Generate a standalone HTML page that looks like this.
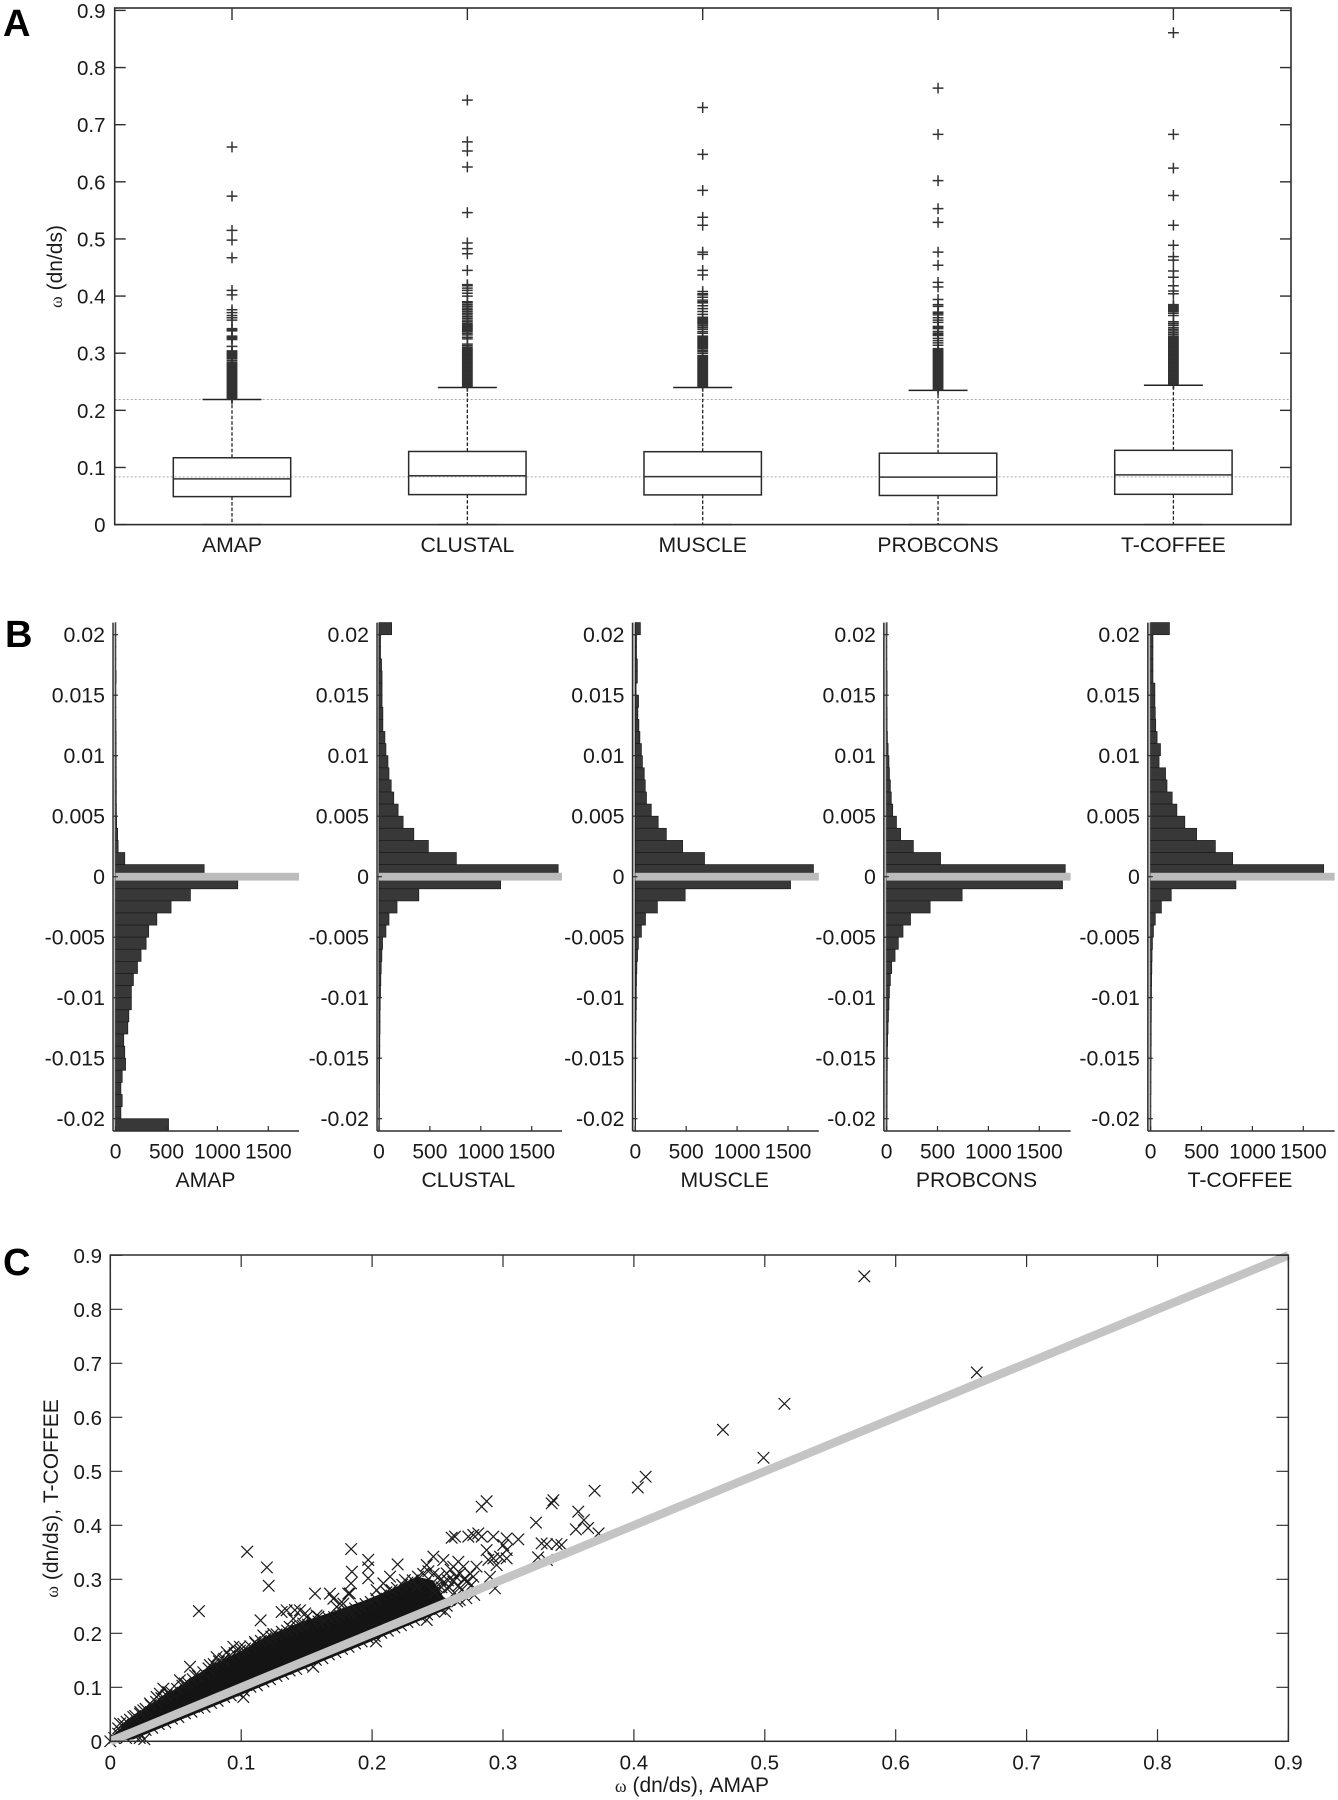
<!DOCTYPE html>
<html lang="en">
<head>
<meta charset="utf-8">
<title>Omega distributions across alignment methods</title>
<style>
html,body{margin:0;padding:0;background:#fff;}
svg{display:block;font-family:"Liberation Sans",sans-serif;fill:#1a1a1a;}
</style>
</head>
<body>
<svg id="figure" xmlns="http://www.w3.org/2000/svg" width="1338" height="1800" viewBox="0 0 1338 1800">
  <rect x="0" y="0" width="1338" height="1800" fill="#fff"/>
  <g id="panelA"></g>
  <g id="panelB"></g>
  <g id="panelC"></g>
  <text x="3" y="36" font-size="38" font-weight="bold" fill="#000">A</text>
  <text x="5" y="647" font-size="38" font-weight="bold" fill="#000">B</text>
  <text x="3" y="1275" font-size="38" font-weight="bold" fill="#000">C</text>
</svg>
<script>
/* ---------- shared category data ---------- */
var methods = ['AMAP','CLUSTAL','MUSCLE','PROBCONS','T-COFFEE'];

/* ---------- panel A data ---------- */
var omegaTicks = [0,0.1,0.2,0.3,0.4,0.5,0.6,0.7,0.8,0.9];
var omegaTickLabels = ['0','0.1','0.2','0.3','0.4','0.5','0.6','0.7','0.8','0.9'];
var boxQ1 = [0.049,0.0525,0.052,0.051,0.053];
var boxMedian = [0.080,0.0855,0.084,0.083,0.087];
var boxQ3 = [0.117,0.128,0.1276,0.125,0.130];
var whiskerHigh = [0.219,0.240,0.240,0.235,0.244];
var whiskerLow = [0,0,0,0,0];
var referenceLines = [0.219,0.0835];
var fliersAmap = [0.661,0.575,0.515,0.498,0.467,0.41,0.402,0.376,0.371,0.366,0.362,0.358,0.343,0.341,0.339,0.330,0.328,0.326,0.324,0.312,0.304,0.302,0.300,0.298,0.296,0.294,0.292,0.290,0.287,0.284,0.282,0.280,0.278,0.276,0.274,0.272,0.270,0.268,0.266,0.264,0.262,0.260,0.258,0.256,0.254,0.252,0.250,0.248,0.246,0.244,0.242,0.240,0.238,0.236,0.234,0.232,0.230,0.228,0.226,0.224,0.222,0.220];
var fliersClustal = [0.743,0.670,0.654,0.626,0.546,0.493,0.483,0.474,0.445,0.420,0.418,0.414,0.410,0.405,0.400,0.390,0.388,0.385,0.382,0.379,0.376,0.373,0.370,0.367,0.364,0.361,0.358,0.355,0.352,0.350,0.348,0.346,0.344,0.342,0.340,0.338,0.335,0.332,0.328,0.325,0.316,0.313,0.310,0.308,0.306,0.304,0.302,0.300,0.298,0.296,0.294,0.292,0.290,0.288,0.286,0.284,0.282,0.280,0.278,0.276,0.274,0.272,0.270,0.268,0.266,0.264,0.262,0.260,0.258,0.256,0.254,0.252,0.250,0.248,0.246,0.244,0.242];
var fliersMuscle = [0.730,0.648,0.585,0.538,0.524,0.477,0.473,0.445,0.437,0.408,0.404,0.402,0.398,0.393,0.390,0.388,0.383,0.378,0.373,0.368,0.363,0.361,0.359,0.357,0.355,0.353,0.351,0.348,0.345,0.342,0.338,0.335,0.330,0.328,0.326,0.324,0.322,0.320,0.318,0.316,0.314,0.312,0.310,0.308,0.305,0.303,0.300,0.296,0.294,0.292,0.290,0.288,0.286,0.284,0.282,0.280,0.278,0.276,0.274,0.272,0.270,0.268,0.266,0.264,0.262,0.260,0.258,0.256,0.254,0.252,0.250,0.248,0.246,0.244,0.242];
var fliersProbcons = [0.764,0.683,0.602,0.553,0.529,0.477,0.454,0.424,0.416,0.394,0.385,0.382,0.372,0.370,0.367,0.362,0.358,0.354,0.347,0.345,0.343,0.338,0.335,0.333,0.331,0.326,0.322,0.318,0.314,0.308,0.306,0.304,0.302,0.300,0.298,0.296,0.294,0.292,0.290,0.288,0.286,0.284,0.282,0.280,0.278,0.276,0.274,0.272,0.270,0.268,0.266,0.264,0.262,0.260,0.258,0.256,0.254,0.252,0.250,0.248,0.246,0.244,0.242,0.240,0.238,0.236];
var fliersTcoffee = [0.861,0.683,0.624,0.576,0.524,0.489,0.469,0.463,0.444,0.433,0.418,0.409,0.404,0.385,0.383,0.381,0.379,0.377,0.375,0.373,0.370,0.366,0.355,0.352,0.349,0.345,0.342,0.339,0.336,0.333,0.330,0.328,0.326,0.324,0.322,0.320,0.318,0.316,0.314,0.312,0.310,0.308,0.306,0.304,0.302,0.300,0.298,0.296,0.294,0.292,0.290,0.288,0.286,0.284,0.282,0.280,0.278,0.276,0.274,0.272,0.270,0.268,0.266,0.264,0.262,0.260,0.258,0.256,0.254,0.252,0.250,0.248,0.246];
var fliersByMethod = [fliersAmap,fliersClustal,fliersMuscle,fliersProbcons,fliersTcoffee];

/* ---------- panel B data ---------- */
var diffTicks = [0.02,0.015,0.01,0.005,0,-0.005,-0.01,-0.015,-0.02];
var diffTickLabels = ['0.02','0.015','0.01','0.005','0','-0.005','-0.01','-0.015','-0.02'];
var countTicks = [0,500,1000,1500];
var countTickLabels = ['0','500','1000','1500'];
var binStarts = [0.020,0.019,0.018,0.017,0.016,0.015,0.014,0.013,0.012,0.011,0.010,0.009,0.008,0.007,0.006,0.005,0.004,0.003,0.002,0.001,0,-0.001,-0.002,-0.003,-0.004,-0.005,-0.006,-0.007,-0.008,-0.009,-0.010,-0.011,-0.012,-0.013,-0.014,-0.015,-0.016,-0.017,-0.018,-0.019,-0.020,-0.021];
var histAmap = [3,3,3,3,5,3,3,3,4,5,5,6,6,7,7,8,10,20,25,90,870,1200,735,545,405,325,300,250,215,175,155,155,130,120,80,90,98,65,52,65,52,520];
var histClustal = [124,15,15,25,30,30,30,38,38,58,68,88,98,120,145,188,237,342,485,760,1760,1195,391,177,98,68,35,28,22,18,15,12,10,10,8,8,6,6,5,5,4,4];
var histMuscle = [50,12,12,20,20,8,32,25,35,45,60,70,88,98,110,157,225,305,465,680,1750,1525,490,217,100,60,30,22,15,12,10,10,8,6,5,5,4,4,3,3,3,3];
var histProbcons = [5,3,3,3,5,5,4,5,5,8,15,23,28,37,46,60,97,138,263,530,1755,1728,742,428,235,161,115,83,50,37,28,23,18,14,10,8,7,6,6,5,5,4];
var histTcoffee = [185,23,23,23,23,42,42,46,50,64,97,83,147,161,212,258,336,452,636,806,1700,838,203,106,46,28,18,14,12,10,9,8,7,6,6,5,5,4,4,3,3,3];
var histByMethod = [histAmap,histClustal,histMuscle,histProbcons,histTcoffee];

/* ---------- panel C data ---------- */
var cloudX = [0,0.0176,0.038,0.056,0.076,0.099,0.119,0.145,0.170,0.1933,0.2137,0.234,0.2468,0.2544,0.2595];
var cloudUpper = [0.008,0.044,0.08,0.106,0.14,0.166,0.194,0.22,0.24,0.26,0.28,0.305,0.298,0.2678,0.2595];
var cloudLower = [0,0.0036,0.024,0.042,0.062,0.085,0.105,0.131,0.156,0.179,0.2,0.221,0.234,0.242,0.248];
/* isolated and clustered points read individually */
var sparseAmap = [0,0.003,0.006,0.0677,0.1045,0.1196,0.121,0.1148,0.184,0.197,0.1846,0.197,0.1839,0.197,0.2195,0.2837,0.2875,0.3372,0.3385,0.370,0.3575,0.3618,0.3252,0.3557,0.3295,0.3409,0.3447,0.3268,0.373,0.576,0.662,0.515,0.468,0.499,0.409,0.403,0.2608,0.2633,0.2735,0.2773,0.2811,0.2837,0.2926,0.3028,0.3117,0.2875,0.2926,0.2977,0.3028,0.2951,0.3002,0.3028,0.2888,0.2901,0.2939,0.3335,0.3335,0.365];
var sparseTcoffee = [0,0.006,0.014,0.241,0.351,0.322,0.288,0.224,0.356,0.336,0.314,0.322,0.2925,0.302,0.3277,0.4345,0.4445,0.4407,0.4465,0.464,0.4253,0.4097,0.405,0.3925,0.3666,0.3653,0.3635,0.3406,0.385,0.861,0.683,0.625,0.577,0.525,0.49,0.47,0.377,0.379,0.379,0.382,0.385,0.379,0.379,0.3758,0.374,0.3541,0.3387,0.342,0.3387,0.3264,0.3635,0.3541,0.336,0.3048,0.2833,0.3357,0.365,0.395];
/* points along the upper fringe of the dense cloud */
var upperAmap = [0.1564,0.1678,0.1704,0.1818,0.1755,0.1818,0.1347,0.1449,0.1398,0.1309,0.15,0.1576,0.137,0.1474,0.1245,0.1169,0.1105,0.122,0.099,0.094,0.0889,0.0812,0.0761,0.0863,0.0609,0.0647,0.0532,0.057,0.0405,0.0443,0.0354,0.0303,0.0227,0.0176,0.0074,0.0125,0.0252,0.0379,0.141,0.1489,0.159,0.178,0.183,0.173,0.2137,0.2086,0.2035,0.2251,0.229,0.2417,0.2468,0.2544,0.2659,0.262,0.2697,0.257,0.2672,0.252,0.262,0.2722,0.2798,0.2773,0.257,0.2684,0.2493,0.276,0.2404,0.234,0.258,0.264,0.27,0.275,0.253,0.248,0.266,0.26];
var upperTcoffee = [0.2735,0.2735,0.264,0.2735,0.255,0.2395,0.2426,0.2426,0.227,0.2395,0.23,0.233,0.212,0.218,0.199,0.196,0.184,0.184,0.175,0.175,0.165,0.156,0.141,0.15,0.138,0.122,0.113,0.107,0.0975,0.091,0.082,0.07,0.051,0.045,0.033,0.036,0.0574,0.088,0.243,0.237,0.231,0.255,0.274,0.249,0.305,0.2925,0.28,0.2986,0.2894,0.3265,0.342,0.3356,0.3326,0.3234,0.3234,0.311,0.311,0.2986,0.2956,0.2956,0.3234,0.3048,0.2833,0.2802,0.2864,0.2894,0.2925,0.2864,0.298,0.305,0.3,0.31,0.285,0.275,0.288,0.318];
/* second row of points hugging the dense cloud edge */
var fringeAmap = [0.006,0.010,0.015,0.019,0.023,0.027,0.031,0.035,0.039,0.043,0.047,0.051,0.055,0.059,0.063,0.067,0.071,0.075,0.079,0.083,0.087,0.091,0.095,0.099,0.103,0.107,0.111,0.115,0.119,0.123,0.127,0.131,0.135,0.139,0.143,0.147,0.151,0.155,0.159,0.163,0.167,0.171,0.175,0.179,0.183,0.187,0.191,0.195,0.199,0.203,0.207,0.211,0.215,0.219,0.223,0.227,0.231,0.235,0.239,0.243,0.247,0.251,0.255,0.259,0.263];
var fringeTcoffee = [0.024,0.032,0.04,0.047,0.054,0.06,0.067,0.073,0.08,0.085,0.09,0.097,0.103,0.109,0.115,0.121,0.128,0.135,0.143,0.148,0.153,0.158,0.163,0.168,0.172,0.176,0.181,0.186,0.191,0.194,0.198,0.203,0.205,0.208,0.212,0.214,0.216,0.22,0.222,0.224,0.228,0.23,0.234,0.238,0.242,0.246,0.25,0.254,0.258,0.264,0.27,0.276,0.28,0.284,0.29,0.294,0.298,0.305,0.31,0.315,0.31,0.305,0.295,0.285,0.275];
/* points peeking out under the identity line */
var lowerAmap = [0.012,0.018,0.022,0.027,0.032,0.037,0.042,0.047,0.052,0.057,0.062,0.067,0.072,0.077,0.082,0.087,0.092,0.097,0.102,0.107,0.112,0.117,0.122,0.127,0.132,0.137,0.142,0.147,0.152,0.157,0.162,0.167,0.172,0.177,0.182,0.187,0.192,0.197,0.202,0.207,0.212,0.217,0.222,0.227,0.232,0.237,0.242,0.247,0.252,0.257,0.265,0.272,0.278,0.1016,0.155,0.203,0.0225,0.026,0.2557,0.267,0.2417];
var lowerTcoffee = [0.006,0.012,0.016,0.021,0.025,0.032,0.035,0.042,0.045,0.052,0.055,0.062,0.064,0.071,0.075,0.082,0.085,0.091,0.094,0.101,0.104,0.111,0.115,0.121,0.125,0.131,0.134,0.141,0.145,0.151,0.154,0.161,0.165,0.171,0.175,0.181,0.185,0.191,0.195,0.201,0.205,0.211,0.215,0.221,0.225,0.231,0.235,0.241,0.245,0.251,0.259,0.265,0.271,0.082,0.138,0.185,0.006,0.004,0.24,0.2616,0.2246];

/* ---------- helpers ---------- */
var NS = 'http://www.w3.org/2000/svg';
var STROKE = '#2e2e2e';
function add(parent, tag, attrs, txt){
  var n = document.createElementNS(NS, tag);
  for (var k in attrs){ n.setAttribute(k, attrs[k]); }
  if (txt !== undefined){ n.textContent = txt; }
  parent.appendChild(n);
  return n;
}
function omegaLabel(parent, attrs, rest, size){
  var t = add(parent, 'text', attrs);
  add(t, 'tspan', {'font-family':'"Liberation Serif",serif','font-size':size*0.85}, 'ω');
  add(t, 'tspan', {}, ' ' + rest);
  return t;
}
var el;

/* ---------- panel A ---------- */
var A = {left:114.7,right:1291,top:8,bottom:524.6,pxPerUnit:571.3,firstX:232,stepX:235.35,halfBox:58.7,halfCap:29.5,flier:5.4};
function yA(v){ return A.bottom - v*A.pxPerUnit; }
function xA(i){ return A.firstX + i*A.stepX; }
var gA = document.getElementById('panelA');

referenceLines.forEach(function(v){
  el = add(gA,'line',{x1:A.left,x2:A.right,y1:yA(v),y2:yA(v),stroke:'#a8a8a8','stroke-width':1,'stroke-dasharray':'2 2'});
  
  
});
methods.forEach(function(m,i){
  var cx = xA(i);
  el = add(gA,'line',{x1:cx,x2:cx,y1:yA(boxQ3[i]),y2:yA(whiskerHigh[i]),stroke:'#222','stroke-width':1.3,'stroke-dasharray':'3.5 2'});
  
  
  el = add(gA,'line',{x1:cx,x2:cx,y1:yA(boxQ1[i]),y2:yA(whiskerLow[i]),stroke:'#222','stroke-width':1.3,'stroke-dasharray':'3.5 2'});
  
  
  el = add(gA,'line',{x1:cx-A.halfCap,x2:cx+A.halfCap,y1:yA(whiskerHigh[i]),y2:yA(whiskerHigh[i]),stroke:'#222','stroke-width':1.5});
  
  
  el = add(gA,'line',{x1:cx-A.halfCap,x2:cx+A.halfCap,y1:yA(whiskerLow[i]),y2:yA(whiskerLow[i]),stroke:'#222','stroke-width':1.4});
  
  
  el = add(gA,'rect',{x:cx-A.halfBox,y:yA(boxQ3[i]),width:A.halfBox*2,height:yA(boxQ1[i])-yA(boxQ3[i]),fill:'none',stroke:'#2a2a2a','stroke-width':1.5});
  
  
  el = add(gA,'line',{x1:cx-A.halfBox,x2:cx+A.halfBox,y1:yA(boxMedian[i]),y2:yA(boxMedian[i]),stroke:'#333','stroke-width':1.5});
  
  
  fliersByMethod[i].forEach(function(v){
    var y = yA(v);
    el = add(gA,'path',{d:'M'+(cx-A.flier)+' '+y+'H'+(cx+A.flier)+'M'+cx+' '+(y-A.flier)+'V'+(y+A.flier),stroke:'#333','stroke-width':1.5,fill:'none'});
    
    
  });
  el = add(gA,'line',{x1:cx,x2:cx,y1:A.top,y2:A.top+12,stroke:STROKE,'stroke-width':1.4});
  
  
  el = add(gA,'text',{x:cx,y:552,'font-size':21.2,'text-anchor':'middle'},m);
  
  
});
el = add(gA,'rect',{x:A.left,y:A.top,width:A.right-A.left,height:A.bottom-A.top,fill:'none',stroke:STROKE,'stroke-width':1.6});


omegaTicks.forEach(function(v,i){
  var y = yA(v);
  el = add(gA,'line',{x1:A.left,x2:A.left+11,y1:y,y2:y,stroke:STROKE,'stroke-width':1.4});
  
  
  el = add(gA,'line',{x1:A.right-11,x2:A.right,y1:y,y2:y,stroke:STROKE,'stroke-width':1.4});
  
  
  el = add(gA,'text',{x:105.5,y:y+7.5,'font-size':20.5,'text-anchor':'end'},omegaTickLabels[i]);
  
  
});
el = omegaLabel(gA,{x:0,y:0,'font-size':21,'text-anchor':'middle',transform:'translate(62 266.5) rotate(-90)'},'(dn/ds)',21);



/* ---------- panel B ---------- */
var B = {zeroY:876.7,pxPerDiff:12100,top:622.6,bottom:1131,pxPerCount:0.1018,tickLen:5};
var spines = [113,377,632.5,883.8,1147.8];
var zeros = [115.6,379,635.3,886.6,1150.6];
var rights = [299,562,818.8,1070.6,1334.6];
var labelCenters = [205.5,468.4,724.7,976.5,1240];
function yB(v){ return B.zeroY - v*B.pxPerDiff; }
function xB(p,c){ return zeros[p] + c*B.pxPerCount; }
var gB = document.getElementById('panelB');

methods.forEach(function(m,p){
  var g = add(gB,'g',{});
  
  
  el = add(g,'line',{x1:spines[p]+1.6,x2:spines[p]+1.6,y1:B.top,y2:B.bottom,stroke:'#bbb','stroke-width':2});
  
  
  histByMethod[p].forEach(function(c,i){
    var yt = yB(binStarts[i]+0.001);
    el = add(g,'rect',{x:xB(p,0),y:yt,width:xB(p,c)-xB(p,0),height:yB(binStarts[i])-yt,fill:'#383838',stroke:'#1c1c1c','stroke-width':0.7});
    
    
  });
  el = add(g,'rect',{x:zeros[p],y:yB(0)-3.9,width:rights[p]-zeros[p],height:7.8,fill:'#bcbcbc'});
  
  
  el = add(g,'line',{x1:spines[p],x2:spines[p],y1:B.top,y2:B.bottom,stroke:STROKE,'stroke-width':1.4});
  
  
  el = add(g,'line',{x1:spines[p],x2:rights[p],y1:B.bottom,y2:B.bottom,stroke:STROKE,'stroke-width':1.4});
  
  
  diffTicks.forEach(function(v,i){
    var y = yB(v);
    el = add(g,'line',{x1:spines[p],x2:spines[p]+B.tickLen,y1:y,y2:y,stroke:STROKE,'stroke-width':1.2});
    
    
    el = add(g,'text',{x:spines[p]-8,y:y+7.5,'font-size':21.3,'text-anchor':'end'},diffTickLabels[i]);
    
    
  });
  countTicks.forEach(function(c,i){
    var x = xB(p,c);
    el = add(g,'line',{x1:x,x2:x,y1:B.bottom-B.tickLen,y2:B.bottom,stroke:STROKE,'stroke-width':1.2});
    
    
    el = add(g,'text',{x:x,y:1158.5,'font-size':21,'text-anchor':'middle'},countTickLabels[i]);
    
    
  });
  el = add(g,'text',{x:labelCenters[p],y:1187,'font-size':21.2,'text-anchor':'middle'},m);
  
  
});

/* ---------- panel C ---------- */
var C = {left:110.3,right:1288.4,top:1255,bottom:1741.3,pxX:1309,pxY:540,half:5.8,tick:12};
function xC(v){ return C.left + v*C.pxX; }
function yC(v){ return C.bottom - v*C.pxY; }
var gC = document.getElementById('panelC');

var cloudPts = [];
cloudX.forEach(function(x,i){ cloudPts.push(xC(x)+','+yC(cloudUpper[i])); });
for (var ci = cloudX.length-1; ci >= 0; ci--){ cloudPts.push(xC(cloudX[ci])+','+yC(cloudLower[ci])); }
el = add(gC,'polygon',{points:cloudPts.join(' '),fill:'#141414'});


var scatterX = sparseAmap.concat(upperAmap,fringeAmap,lowerAmap);
var scatterY = sparseTcoffee.concat(upperTcoffee,fringeTcoffee,lowerTcoffee);
scatterX.forEach(function(x,i){
  var px = xC(x), py = yC(scatterY[i]), h = C.half;
  el = add(gC,'path',{d:'M'+(px-h)+' '+(py-h)+'L'+(px+h)+' '+(py+h)+'M'+(px-h)+' '+(py+h)+'L'+(px+h)+' '+(py-h),stroke:'#1a1a1a','stroke-width':1.2,fill:'none'});
  
  
});
el = add(gC,'line',{x1:xC(0),y1:yC(0),x2:xC(0.9),y2:yC(0.9),stroke:'#c4c4c4','stroke-width':8.5});


el = add(gC,'rect',{x:C.left,y:C.top,width:C.right-C.left,height:C.bottom-C.top,fill:'none',stroke:STROKE,'stroke-width':1.5});


omegaTicks.forEach(function(v,i){
  var x = xC(v), y = yC(v);
  el = add(gC,'path',{d:'M'+x+' '+C.bottom+'V'+(C.bottom-C.tick)+'M'+x+' '+C.top+'V'+(C.top+C.tick),stroke:STROKE,'stroke-width':1.2,fill:'none'});
  
  
  el = add(gC,'path',{d:'M'+C.left+' '+y+'H'+(C.left+C.tick)+'M'+C.right+' '+y+'H'+(C.right-C.tick),stroke:STROKE,'stroke-width':1.2,fill:'none'});
  
  
  el = add(gC,'text',{x:x,y:1769.5,'font-size':20.5,'text-anchor':'middle'},omegaTickLabels[i]);
  
  
  el = add(gC,'text',{x:102,y:y+7.5,'font-size':20.5,'text-anchor':'end'},omegaTickLabels[i]);
  
  
});
el = omegaLabel(gC,{x:692,y:1792,'font-size':21,'text-anchor':'middle'},'(dn/ds), AMAP',21);


el = omegaLabel(gC,{x:0,y:0,'font-size':21,'text-anchor':'middle',transform:'translate(58 1498.5) rotate(-90)'},'(dn/ds), T-COFFEE',21);


</script>
</body>
</html>
